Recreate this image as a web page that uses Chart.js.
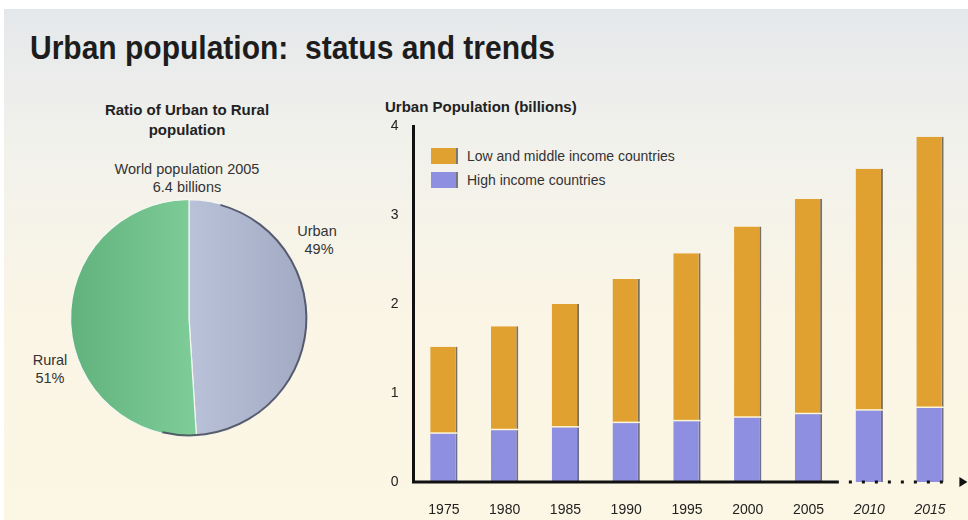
<!DOCTYPE html>
<html>
<head>
<meta charset="utf-8">
<script src="https://cdn.jsdelivr.net/npm/chart.js@4/dist/chart.umd.min.js"></script>
<style>
  body { margin: 0; width: 968px; height: 520px; background: #fff; overflow: hidden; position: relative;
         font-family: "Liberation Sans", Arial, sans-serif; color: #222; }
  #panel { position: absolute; left: 4px; top: 9px; right: 0; bottom: 0;
           background: linear-gradient(to bottom, #e5e8eb 0%, #f1f1ec 25%, #faf5e5 60%, #fcf6e4 100%); }
  .txt { position: absolute; white-space: pre; line-height: 18px; }
  #title { left: 30px; top: 28px; font-size: 34px; font-weight: bold; line-height: 38px; color: #1d1d1d;
           transform-origin: 0 0; }
  #pieTitle { left: 97px; top: 100px; width: 180px; text-align: center; font-weight: bold; font-size: 15px; line-height: 20px; }
  #worldPop { left: 107px; top: 160px; width: 160px; text-align: center; font-size: 14.5px; color: #333; }
  #urbanLbl { left: 287px; top: 222px; width: 60px; text-align: center; font-size: 14.5px; color: #333; }
  #ruralLbl { left: 25px; top: 351px; width: 50px; text-align: center; font-size: 14.5px; color: #333; }
  #barTitle { left: 385px; top: 98px; font-size: 15px; font-weight: bold; }
  #legend { position: absolute; left: 431px; top: 144px; font-size: 14px; color: #333; }
  #legend div { height: 24px; display: flex; align-items: center; }
  #legend span.box { display: inline-block; width: 25px; height: 16px; margin-right: 9px; border-right: 2px solid #777; }
  canvas { position: absolute; }
</style>
</head>
<body>
<div id="panel"></div>
<div class="txt" id="title">Urban population:  status and trends</div>
<div class="txt" id="pieTitle">Ratio of Urban to Rural
population</div>
<div class="txt" id="worldPop">World population 2005
6.4 billions</div>
<div class="txt" id="urbanLbl">Urban
 49%</div>
<div class="txt" id="ruralLbl">Rural
51%</div>
<div class="txt" id="barTitle">Urban Population (billions)</div>
<div id="legend"></div>

<div style="position:absolute;left:67px;top:196px;width:244px;height:244px;"><canvas id="pie"></canvas></div>
<div style="position:absolute;left:370px;top:100px;width:598px;height:420px;"><canvas id="bars"></canvas></div>

<script>
var pieLabels = ['Urban', 'Rural'];
var pieShares = [49, 51];

var years = ['1975', '1980', '1985', '1990', '1995', '2000', '2005', '2010', '2015'];
var projectedYears = ['2010', '2015'];
var highIncome = [0.55, 0.59, 0.62, 0.67, 0.69, 0.73, 0.77, 0.81, 0.84];
var lowMiddleIncome = [0.97, 1.16, 1.38, 1.61, 1.88, 2.14, 2.41, 2.71, 3.04];
var yTicks = [0, 1, 2, 3, 4];

var fontFamily = '"Liberation Sans", Arial, sans-serif';
var orange = '#e1a131';
var blue = '#8e8fe0';

// squeeze the headline to the condensed width of the original
var title = document.getElementById('title');
title.style.transform = 'scaleX(' + (525 / title.offsetWidth) + ')';

// pie gradients follow the chart area
function pieFill(ctx) {
    var area = ctx.chart.chartArea;
    if (!area) return ctx.dataIndex === 0 ? '#afb8d0' : '#72c28d';
    var g = ctx.chart.ctx.createLinearGradient(area.left, 0, area.right, 0);
    if (ctx.dataIndex === 0) {
        g.addColorStop(0.5, '#b9c2d9');
        g.addColorStop(1, '#a2aac3');
    } else {
        g.addColorStop(0, '#62b27e');
        g.addColorStop(0.5, '#7dcc97');
    }
    return g;
}

var pieOutline = {
    id: 'pieOutline',
    afterDatasetsDraw: function (chart) {
        var arc = chart.getDatasetMeta(0).data[0];
        var c = chart.ctx;
        c.save();
        c.strokeStyle = 'rgba(70,74,90,0.85)';
        c.lineWidth = 2;
        c.beginPath();
        c.arc(arc.x, arc.y, arc.outerRadius - 1, -1.3, 1.8);
        c.stroke();
        c.restore();
    }
};

new Chart(document.getElementById('pie'), {
    type: 'pie',
    data: {
        labels: pieLabels,
        datasets: [{
            data: pieShares,
            backgroundColor: pieFill,
            borderColor: '#f4f7f2',
            borderWidth: 1.2
        }]
    },
    options: {
        responsive: true,
        maintainAspectRatio: false,
        animation: false,
        layout: { padding: 3 },
        plugins: { legend: { display: false }, tooltip: { enabled: false } }
    },
    plugins: [pieOutline]
});

// x axis: solid for observed years, dotted for projections, then an arrow
var barDecor = {
    id: 'barDecor',
    afterDatasetsDraw: function (chart) {
        var c = chart.ctx;
        var area = chart.chartArea;
        var x = chart.scales.x;
        var half = (x.getPixelForValue(1) - x.getPixelForValue(0)) / 2;
        var split = x.getPixelForValue(years.length - projectedYears.length) - half;
        var y0 = area.bottom;

        // thin separator between stacked segments
        var meta = chart.getDatasetMeta(0);
        c.save();
        c.strokeStyle = '#fff6d8';
        c.lineWidth = 1.5;
        meta.data.forEach(function (bar) {
            c.beginPath();
            c.moveTo(bar.x - bar.width / 2, bar.y);
            c.lineTo(bar.x + bar.width / 2, bar.y);
            c.stroke();
        });

        c.strokeStyle = '#111';
        c.lineWidth = 3;
        c.beginPath();
        c.moveTo(area.left - 1.5, y0);
        c.lineTo(split, y0);
        c.stroke();

        c.setLineDash([3, 10]);
        c.beginPath();
        c.moveTo(split + 10, y0);
        c.lineTo(area.right - 8, y0);
        c.stroke();
        c.setLineDash([]);

        c.fillStyle = '#111';
        c.beginPath();
        c.moveTo(area.right - 1, y0 - 5);
        c.lineTo(area.right + 7, y0);
        c.lineTo(area.right - 1, y0 + 5);
        c.closePath();
        c.fill();
        c.restore();
    }
};

var barChart = new Chart(document.getElementById('bars'), {
    type: 'bar',
    data: {
        labels: years,
        datasets: [{
            label: 'High income countries',
            data: highIncome,
            backgroundColor: blue,
            borderColor: '#6e6e86',
            borderWidth: { right: 2, top: 0, left: 0, bottom: 0 },
            borderSkipped: false,
            barPercentage: 0.45,
            categoryPercentage: 1
        }, {
            label: 'Low and middle income countries',
            data: lowMiddleIncome,
            backgroundColor: orange,
            borderColor: '#7a7060',
            borderWidth: { right: 2, top: 0, left: 0, bottom: 0 },
            borderSkipped: false,
            barPercentage: 0.45,
            categoryPercentage: 1
        }]
    },
    options: {
        responsive: true,
        maintainAspectRatio: false,
        animation: false,
        layout: { padding: { top: 26, right: 7.6, left: 0, bottom: 0 } },
        plugins: { legend: { display: false }, tooltip: { enabled: false } },
        scales: {
            x: {
                stacked: true,
                grid: { display: false, drawTicks: false },
                border: { display: false },
                ticks: {
                    padding: 20,
                    color: '#222',
                    font: function (ctx) {
                        var italic = projectedYears.indexOf(years[ctx.index]) >= 0;
                        return { family: fontFamily, size: 14, style: italic ? 'italic' : 'normal' };
                    }
                },
                afterFit: function (s) { s.height = 38; }
            },
            y: {
                stacked: true,
                min: yTicks[0],
                max: yTicks[yTicks.length - 1],
                grid: { display: false, drawTicks: false },
                border: { display: true, color: '#111', width: 3 },
                afterBuildTicks: function (s) { s.ticks = yTicks.map(function (v) { return { value: v }; }); },
                ticks: { padding: 15, color: '#222', font: { family: fontFamily, size: 14 } },
                afterFit: function (s) { s.width = 43.5; }
            }
        }
    },
    plugins: [barDecor]
});

// legend built from the datasets, top item first as in the source
var legend = document.getElementById('legend');
barChart.data.datasets.slice().reverse().forEach(function (ds) {
    var row = document.createElement('div');
    row.innerHTML = '<span class="box" style="background:' + ds.backgroundColor + '"></span>' + ds.label;
    legend.appendChild(row);
});
</script>
</body>
</html>
